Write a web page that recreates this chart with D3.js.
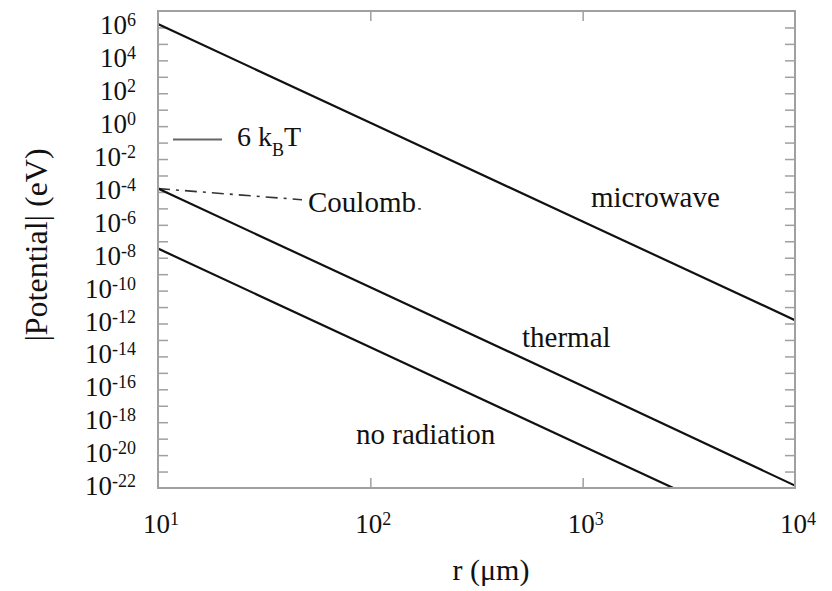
<!DOCTYPE html>
<html>

<head>
    <meta charset="utf-8">
    <style>
    body {
        margin: 0;
        background: #fff;
    }

    text {
        font-family: "Liberation Serif", "DejaVu Serif", serif;
        fill: #111;
    }

    .frame {
        fill: none;
        stroke: #a0a0a0;
        stroke-width: 2px;
    }

    .ticks line {
        stroke: #a0a0a0;
        stroke-width: 1.5px;
    }

    .ticks path {
        display: none;
    }

    .curve {
        fill: none;
        stroke: #111;
        stroke-width: 2.2px;
    }
    </style>
</head>

<body>
    <script src="https://d3js.org/d3.v7.min.js"></script>
    <script>
    var width = 832, height = 591;

    // r in micrometres, |potential| in eV
    var rMicrowave = [10, 100, 1000, 10000];
    var vMicrowave = [1.6e6, 1.6e0, 1.6e-6, 1.6e-12];

    var rThermal = [10, 100, 1000, 10000];
    var vThermal = [1.6e-4, 1.6e-10, 1.6e-16, 1.4e-22];

    var rNoRadiation = [10, 100, 1000, 3000];
    var vNoRadiation = [3.6e-8, 3.6e-14, 3.6e-20, 5e-23];

    var rCoulomb = [10, 173];
    var vCoulomb = [1.6e-4, 9.2e-6];

    var xTickValues = [1e1, 1e2, 1e3, 1e4];
    var xTickExp = ["1", "2", "3", "4"];
    var yLabelValues = [1e6, 1e4, 1e2, 1e0, 1e-2, 1e-4, 1e-6, 1e-8, 1e-10, 1e-12, 1e-14, 1e-16, 1e-18, 1e-20, 1e-22];
    var yLabelExp = ["6", "4", "2", "0", "-2", "-4", "-6", "-8", "-10", "-12", "-14", "-16", "-18", "-20", "-22"];
    var yTickValues = [];
    for (var p = -21; p <= 6; p++) yTickValues.push(Math.pow(10, p));

    // plot box (window.top is read-only, so no plain "top")
    var box = { left: 158, right: 795, top: 11, bottom: 488 };

    var svg = d3.select("body").append("svg")
        .attr("width", width)
        .attr("height", height);

    var x = d3.scaleLog().domain([10, 1e4]).range([box.left, box.right]);
    var y = d3.scaleLog().domain([1e-22, 1e7]).range([box.bottom, box.top]);

    svg.append("clipPath")
        .attr("id", "plot")
        .append("rect")
        .attr("x", box.left)
        .attr("y", box.top)
        .attr("width", box.right - box.left)
        .attr("height", box.bottom - box.top);

    // inward ticks on all four sides
    svg.append("g").attr("class", "ticks")
        .attr("transform", "translate(" + box.left + ",0)")
        .call(d3.axisLeft(y).tickValues(yTickValues).tickSize(-10).tickFormat(""));
    svg.append("g").attr("class", "ticks")
        .attr("transform", "translate(" + box.right + ",0)")
        .call(d3.axisRight(y).tickValues(yTickValues).tickSize(-10).tickFormat(""));
    svg.append("g").attr("class", "ticks")
        .attr("transform", "translate(0," + box.bottom + ")")
        .call(d3.axisBottom(x).tickValues([1e2, 1e3]).tickSize(-10).tickFormat(""));
    svg.append("g").attr("class", "ticks")
        .attr("transform", "translate(0," + box.top + ")")
        .call(d3.axisTop(x).tickValues([1e2, 1e3]).tickSize(-10).tickFormat(""));

    // tick labels, 10 with a raised exponent
    var yl = svg.append("g")
        .selectAll("text")
        .data(yLabelValues)
        .enter().append("text")
        .attr("x", 136)
        .attr("y", function(d) {
            return y(d) + 7;
        })
        .attr("text-anchor", "end")
        .style("font-size", "27px");
    yl.append("tspan").text("10");
    yl.append("tspan")
        .attr("dy", -8)
        .style("font-size", "18px")
        .text(function(d, i) {
            return yLabelExp[i];
        });

    var xl = svg.append("g")
        .selectAll("text")
        .data(xTickValues)
        .enter().append("text")
        .attr("x", function(d) {
            return x(d) + 3;
        })
        .attr("y", 533)
        .attr("text-anchor", "middle")
        .style("font-size", "27px");
    xl.append("tspan").text("10");
    xl.append("tspan")
        .attr("dy", -8)
        .style("font-size", "18px")
        .text(function(d, i) {
            return xTickExp[i];
        });

    var line = d3.line()
        .x(function(d) {
            return x(d[0]);
        })
        .y(function(d) {
            return y(d[1]);
        });

    var plot = svg.append("g").attr("clip-path", "url(#plot)");

    plot.append("path")
        .datum(d3.zip(rCoulomb, vCoulomb))
        .attr("d", line)
        .attr("fill", "none")
        .attr("stroke", "#333")
        .attr("stroke-width", 1.6)
        .attr("stroke-dasharray", "12,6,3,6");

    [[rMicrowave, vMicrowave], [rThermal, vThermal], [rNoRadiation, vNoRadiation]].forEach(function(s) {
        plot.append("path")
            .datum(d3.zip(s[0], s[1]))
            .attr("class", "curve")
            .attr("d", line);
    });

    svg.append("rect")
        .attr("class", "frame")
        .attr("x", box.left)
        .attr("y", box.top)
        .attr("width", box.right - box.left)
        .attr("height", box.bottom - box.top);

    // annotations
    svg.append("rect")
        .attr("x", 302)
        .attr("y", 186)
        .attr("width", 115)
        .attr("height", 30)
        .attr("fill", "#fff");
    svg.append("text")
        .attr("x", 308)
        .attr("y", 212)
        .style("font-size", "29px")
        .text("Coulomb");

    svg.append("line")
        .attr("x1", 173)
        .attr("x2", 222)
        .attr("y1", 139.5)
        .attr("y2", 139.5)
        .attr("stroke", "#666")
        .attr("stroke-width", 2);
    var kt = svg.append("text")
        .attr("x", 237)
        .attr("y", 146)
        .style("font-size", "28px");
    kt.append("tspan").text("6 k");
    kt.append("tspan")
        .attr("dy", 10)
        .style("font-size", "18px")
        .text("B");
    kt.append("tspan")
        .attr("dy", -10)
        .text("T");

    svg.append("text")
        .attr("x", 591)
        .attr("y", 207)
        .style("font-size", "29px")
        .text("microwave");
    svg.append("text")
        .attr("x", 522)
        .attr("y", 347)
        .style("font-size", "29px")
        .text("thermal");
    svg.append("text")
        .attr("x", 356)
        .attr("y", 444)
        .style("font-size", "29px")
        .text("no radiation");

    // axis titles
    svg.append("text")
        .attr("x", 491)
        .attr("y", 580)
        .attr("text-anchor", "middle")
        .style("font-size", "30px")
        .text("r (\u03bcm)");
    svg.append("text")
        .attr("transform", "translate(47,245) rotate(-90)")
        .attr("text-anchor", "middle")
        .style("font-size", "32px")
        .text("|Potential| (eV)");
    </script>
</body>

</html>
